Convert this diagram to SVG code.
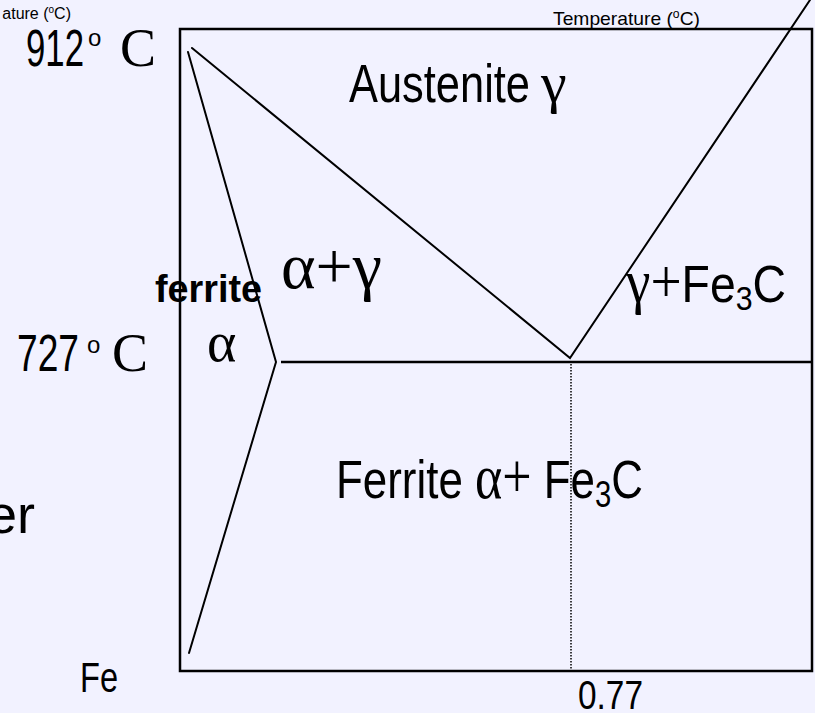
<svg xmlns="http://www.w3.org/2000/svg" width="815" height="713" viewBox="0 0 815 713">
<defs>
<style>
.sans{font-family:"Liberation Sans",Arial,sans-serif;fill:#000}
.serif{font-family:"Liberation Serif","Times New Roman",serif;fill:#000}
.ln{stroke:#000;stroke-width:2;fill:none;stroke-linecap:round;stroke-linejoin:miter}
.box{stroke:#000;stroke-width:2.5;fill:none}
.dot{stroke:#000;stroke-width:1.5;stroke-dasharray:1.5 1.5;fill:none}
</style>
</defs>
<rect x="0" y="0" width="815" height="713" fill="#F2F2FF"/>
<g id="axis-labels">
<text class="sans" x="71" y="19" font-size="16" text-anchor="end">ature (<tspan font-size="10" dy="-6">o</tspan><tspan dy="6">C)</tspan></text>
<text class="sans" x="553" y="25" font-size="19" textLength="147" lengthAdjust="spacingAndGlyphs">Temperature (<tspan font-size="12" dy="-7">o</tspan><tspan dy="7">C)</tspan></text>
</g>
<g id="temp-912">
<text class="sans" x="26" y="66" font-size="52" textLength="58" lengthAdjust="spacingAndGlyphs">912</text>
<text class="sans" x="88" y="46" font-size="24">o</text>
<text class="serif" x="120" y="66" font-size="54">C</text>
</g>
<g id="temp-727">
<text class="sans" x="17" y="371" font-size="52" textLength="62" lengthAdjust="spacingAndGlyphs">727</text>
<text class="sans" x="87" y="353" font-size="24">o</text>
<text class="serif" x="112" y="371" font-size="54">C</text>
</g>
<g id="frame">
<rect class="box" x="180" y="29" width="632" height="642"/>
</g>
<g id="connectors">
<polyline class="ln" points="188,52 276,362 189,653"/>
<polyline class="ln" points="192,48 570,358 810,0"/>
<line class="box" x1="281" y1="362" x2="812" y2="362"/>
<line class="dot" x1="571" y1="364" x2="571" y2="670"/>
</g>
<g id="region-austenite">
<text class="sans" x="349" y="102" font-size="54" textLength="181" lengthAdjust="spacingAndGlyphs">Austenite</text>
<text class="serif" x="541" y="102" font-size="58">γ</text>
</g>
<g id="region-alpha-gamma">
<text class="serif" x="281" y="288" font-size="66">α+γ</text>
</g>
<g id="region-ferrite">
<text class="sans" x="155" y="302" font-size="38" font-weight="bold" textLength="107" lengthAdjust="spacingAndGlyphs">ferrite</text>
<text class="serif" x="207" y="361" font-size="56">α</text>
</g>
<g id="region-gamma-fe3c">
<text class="sans" x="626" y="302" font-size="52" textLength="160" lengthAdjust="spacingAndGlyphs"><tspan class="serif" font-size="62">γ+</tspan>Fe<tspan font-size="34" dy="8">3</tspan><tspan dy="-8">C</tspan></text>
</g>
<g id="region-ferrite-fe3c">
<text class="sans" x="336" y="498" font-size="54" textLength="307" lengthAdjust="spacingAndGlyphs">Ferrite <tspan class="serif" font-size="64">α+</tspan> Fe<tspan font-size="36" dy="9">3</tspan><tspan dy="-9">C</tspan></text>
</g>
<g id="misc-labels">
<text class="sans" x="35" y="533" font-size="54" text-anchor="end">er</text>
<text class="sans" x="80" y="692" font-size="42" textLength="38" lengthAdjust="spacingAndGlyphs">Fe</text>
<text class="sans" x="578" y="709" font-size="41" textLength="65" lengthAdjust="spacingAndGlyphs">0.77</text>
</g>
</svg>
